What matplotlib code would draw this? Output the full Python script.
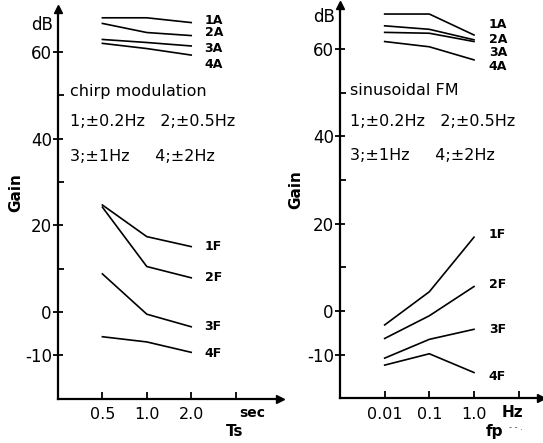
import matplotlib.pyplot as plt

# x positions are equally spaced categories on each panel
ts_labels = ["0.5", "1.0", "2.0"]
fp_labels = ["0.01", "0.1", "1.0"]
pos = [1, 2, 3]

# chirp modulation, gain in dB
chirp_1A = [67.9, 67.9, 66.8]
chirp_2A = [66.6, 64.5, 63.8]
chirp_3A = [62.9, 62.2, 61.4]
chirp_4A = [62.0, 60.8, 59.3]
chirp_1F = [24.7, 17.4, 15.1]
chirp_2F = [24.2, 10.5, 7.9]
chirp_3F = [8.8, -0.5, -3.4]
chirp_4F = [-5.7, -6.9, -9.3]

# sinusoidal FM, gain in dB
sin_1A = [68.0, 68.0, 63.2]
sin_2A = [65.3, 64.5, 62.1]
sin_3A = [63.8, 63.6, 61.7]
sin_4A = [61.7, 60.5, 57.5]
sin_1F = [-3.2, 4.4, 16.9]
sin_2F = [-6.3, -1.1, 5.6]
sin_3F = [-10.8, -6.5, -4.2]
sin_4F = [-12.4, -9.8, -14.1]

W, H = 543, 443
fig = plt.figure(figsize=(W / 100, H / 100), dpi=100)

ax1 = fig.add_axes([58 / W, (H - 398.7) / H, 222 / W, 390 / H])
ax2 = fig.add_axes([340 / W, (H - 398.3) / H, 201 / W, 393 / H])


def setup(ax, xmax):
    ax.set_xlim(0, xmax)
    ax.set_ylim(-20, 70)
    for s in ["top", "right"]:
        ax.spines[s].set_visible(False)
    for s in ["left", "bottom"]:
        ax.spines[s].set_linewidth(1.6)
    ax.plot(1, 0, ">k", ms=6, transform=ax.transAxes, clip_on=False)
    ax.plot(0, 1, "^k", ms=6, transform=ax.transAxes, clip_on=False)
    ax.set_yticks([-10, 0, 20, 40, 60])
    ax.set_yticklabels(["-10", "0", "20", "40", "60"], fontsize=12)
    ax.set_yticks([10, 30, 50], minor=True)
    ax.tick_params(axis="y", which="major", direction="inout", length=7, width=1.3, pad=1)
    ax.tick_params(axis="y", which="minor", direction="in", length=4, width=1.3)
    ax.tick_params(axis="x", direction="in", length=5, width=1.3, pad=6)


setup(ax1, 5.0)
setup(ax2, 4.5)

lw = 1.2
lab = dict(fontsize=9, fontweight="bold", ha="left", va="center")
txt = dict(fontsize=11.5, ha="left", va="center")

# left panel
for y in [chirp_1A, chirp_2A, chirp_3A, chirp_4A, chirp_1F, chirp_2F, chirp_3F, chirp_4F]:
    ax1.plot(pos, y, color="black", lw=lw)
for t, y in [("1A", 67.2), ("2A", 64.4), ("3A", 60.7), ("4A", 57.2),
             ("1F", 15.1), ("2F", 7.9), ("3F", -3.4), ("4F", -9.5)]:
    ax1.text(3.3, y, t, **lab)
ax1.set_xticks([1, 2, 3, 4])
ax1.set_xticklabels(ts_labels + [""], fontsize=11.5)
ax1.text(4.37, -23.3, "sec", fontsize=10, fontweight="bold", ha="center", va="center")
ax1.text(3.97, -27.6, "Ts", fontsize=11, fontweight="bold", ha="center", va="center")
ax1.text(0.26, 50.8, "chirp modulation", **txt)
ax1.text(0.26, 43.9, "1;\u00b10.2Hz   2;\u00b10.5Hz", **txt)
ax1.text(0.26, 36.0, "3;\u00b11Hz     4;\u00b12Hz", **txt)
ax1.text(-0.12, 66.2, "dB", fontsize=12, ha="right", va="center")
ax1.text(-0.95, 27.5, "Gain", fontsize=11, fontweight="bold", rotation=90, ha="center", va="center")

# right panel
for y in [sin_1A, sin_2A, sin_3A, sin_4A, sin_1F, sin_2F, sin_3F, sin_4F]:
    ax2.plot(pos, y, color="black", lw=lw)
for t, y in [("1A", 65.7), ("2A", 62.2), ("3A", 59.2), ("4A", 56.0),
             ("1F", 17.4), ("2F", 6.0), ("3F", -4.2), ("4F", -14.9)]:
    ax2.text(3.33, y, t, **lab)
ax2.set_xticks([1, 2, 3, 4])
ax2.set_xticklabels(fp_labels + [""], fontsize=11.5)
ax2.text(3.87, -23.3, "Hz", fontsize=11, fontweight="bold", ha="center", va="center")
ax2.text(3.46, -27.6, "fp", fontsize=11, fontweight="bold", ha="center", va="center")
ax2.text(3.93, -26.8, "- - .", fontsize=6, ha="center", va="center", color="0.3")
ax2.text(0.22, 50.6, "sinusoidal FM", **txt)
ax2.text(0.22, 43.3, "1;\u00b10.2Hz   2;\u00b10.5Hz", **txt)
ax2.text(0.22, 35.5, "3;\u00b11Hz     4;\u00b12Hz", **txt)
ax2.text(-0.12, 67.4, "dB", fontsize=12, ha="right", va="center")
ax2.text(-0.98, 27.8, "Gain", fontsize=11, fontweight="bold", rotation=90, ha="center", va="center")

fig.savefig("out.png", dpi=100)
